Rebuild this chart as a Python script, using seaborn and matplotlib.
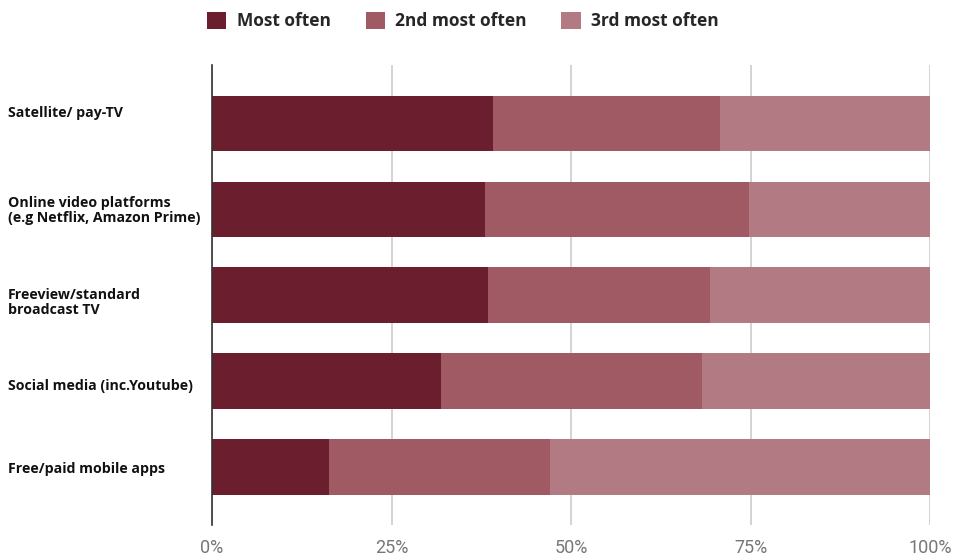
import matplotlib
matplotlib.use("Agg")
import matplotlib.pyplot as plt
import matplotlib.transforms as mtransforms
import seaborn as sns
import pandas as pd
import numpy as np

categories = ["Satellite/ pay-TV",
              "Online video platforms\n(e.g Netflix, Amazon Prime)",
              "Freeview/standard\nbroadcast TV",
              "Social media (inc.Youtube)",
              "Free/paid mobile apps"]
most_often = [39.1, 38.0, 38.4, 31.9, 16.3]
second_most = [31.6, 36.8, 31.0, 36.3, 30.8]
third_most = [29.3, 25.2, 30.6, 31.8, 52.9]
series_names = ["Most often", "2nd most often", "3rd most often"]
colors = ["#6a1e2e", "#a05a63", "#b27b83"]
xticks = [0, 25, 50, 75, 100]

# small vertical nudges (pixels, down is positive) of the category labels
label_nudge = [-10, 1, 7, 5, 2]

sns.set_style("white")
plt.rcParams['font.family'] = ['Open Sans', 'DejaVu Sans']

df = pd.DataFrame({"category": categories,
                   "Most often": most_often,
                   "2nd most often": second_most,
                   "3rd most often": third_most})
# cumulative totals so bars can be layered back to front
cum = df[series_names].cumsum(axis=1)

fig = plt.figure(figsize=(9.55, 5.6), dpi=100)
ax = fig.add_axes([212 / 955, 35 / 560, 718 / 955, 460 / 560])

for name, col in reversed(list(zip(series_names, colors))):
    sns.barplot(x=cum[name], y=df["category"], orient="h", color=col,
                width=0.65, ax=ax, saturation=1, label=name, zorder=3,
                linewidth=0, edgecolor=col)

ax.set_xlim(0, 100)
ax.set_ylim(4.67, -0.68)
ax.set_xticks(xticks)
ax.set_xticklabels([f"{t}%" for t in xticks], family="Roboto",
                   fontweight="normal", fontsize=13, color="#777777")
ax.tick_params(axis="x", length=0, pad=10)
ax.set_xlabel("")
ax.set_ylabel("")

# category labels, left aligned at the figure edge
ax.set_yticklabels([])
ax.tick_params(axis="y", length=0)
base = mtransforms.blended_transform_factory(fig.transFigure, ax.transData)
for i, (cat, dy) in enumerate(zip(categories, label_nudge)):
    tr = base + mtransforms.ScaledTranslation(0, -dy / 100, fig.dpi_scale_trans)
    ax.text(8 / 955, i, cat, transform=tr, ha="left", va="center",
            fontweight="bold", fontsize=10.2, color="#111111",
            linespacing=1.1)

ax.grid(axis="x", color="#cccccc", linewidth=1.2, zorder=0)
ax.grid(axis="y", visible=False)
for s in ["top", "right", "bottom"]:
    ax.spines[s].set_visible(False)
ax.spines["left"].set_color("#333333")
ax.spines["left"].set_linewidth(1.2)
ax.spines["left"].set_zorder(5)

handles, labels = ax.get_legend_handles_labels()
order = [labels.index(n) for n in series_names]
leg = fig.legend([handles[i] for i in order], series_names, loc="center",
                 bbox_to_anchor=(463 / 955, 1 - 21 / 560), ncol=3,
                 frameon=False, prop={"weight": "bold", "size": 12.5},
                 handlelength=1.1, handleheight=1.1, columnspacing=2.0,
                 handletextpad=0.6)
if ax.get_legend() is not None:
    ax.get_legend().remove()

fig.savefig("out.png", dpi=100)
